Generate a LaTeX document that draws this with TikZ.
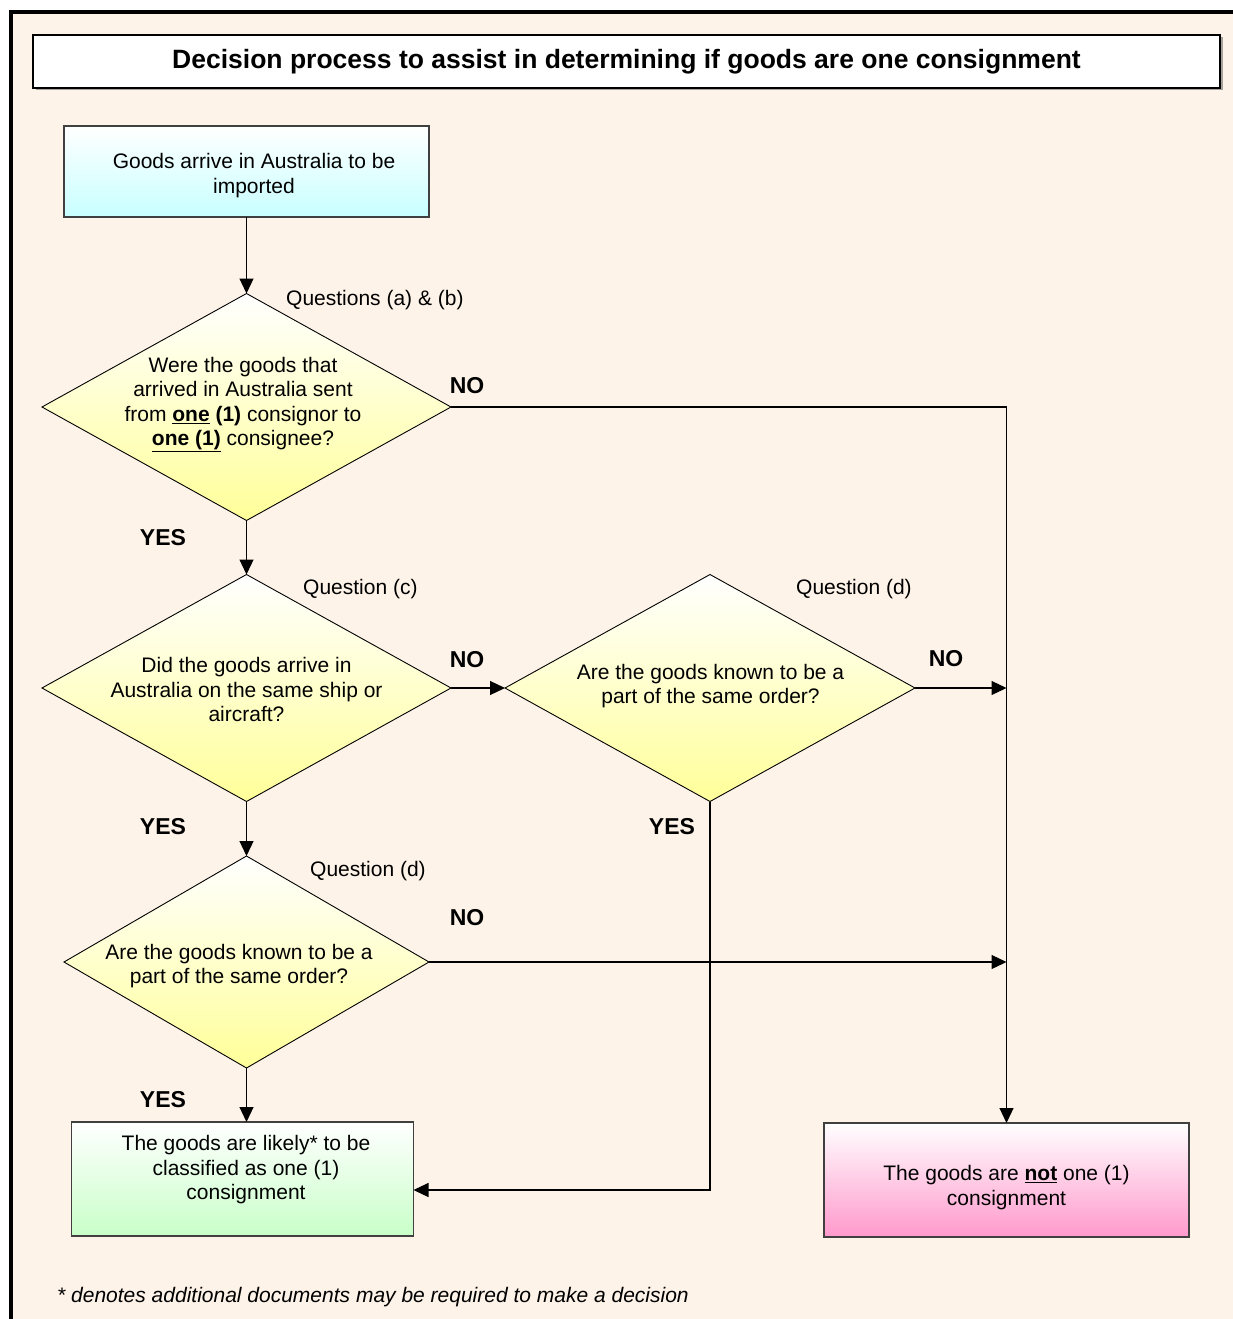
\documentclass[tikz,border=0pt]{standalone}
\usepackage{fontspec}
\setmainfont{Liberation Sans}
\usetikzlibrary{shapes.geometric,arrows.meta,shadows}
\definecolor{bgpeach}{HTML}{FEF3E8}
\definecolor{diayellow}{HTML}{FFFF99}
\definecolor{startcyan}{HTML}{C8FFFF}
\definecolor{okgreen}{HTML}{C8FFC8}
\definecolor{notpink}{HTML}{FF99CC}
\definecolor{boxedge}{HTML}{404040}
\begin{document}
\begin{tikzpicture}[x=1pt,y=-1pt,
  bodytext/.style={font=\fontsize{21}{24.5}\selectfont, align=center, inner sep=0pt},
  qlabel/.style={font=\fontsize{21}{24.5}\selectfont, anchor=west, inner sep=0pt},
  answer/.style={font=\fontsize{23}{26}\selectfont\bfseries, inner sep=0pt},
  dia/.style={shape=diamond, draw=black, line width=0.9pt, inner sep=0pt, outer sep=0pt,
    top color=white, bottom color=diayellow},
  resbox/.style={shape=rectangle, draw=boxedge, line width=1.3pt, inner sep=0pt, outer sep=0pt},
  flow/.style={line width=1.2pt, draw=black, -{Triangle[length=15pt,width=14pt]}},
  flowline/.style={line width=1.2pt, draw=black}
]
\useasboundingbox (0,0) rectangle (1233,1319);
\fill[white] (0,0) rectangle (1233,1319);
\fill[bgpeach] (11,12) rectangle (1233,1319);
\draw[line width=4pt] (9,12) -- (1233,12);
\draw[line width=4pt] (11,10) -- (11,1319);

% title
\node (title) [draw=black, line width=2.5pt, fill=white, inner sep=0pt, outer sep=0pt,
  minimum width=1187pt, minimum height=53pt,
  drop shadow={shadow xshift=2.5pt, shadow yshift=-2.5pt, fill=gray, opacity=0.7},
  font=\fontsize{26.5}{30}\selectfont\bfseries] at (626.5,61.5)
  {Decision process to assist in determining if goods are one consignment};

% start box
\node (start) [resbox, top color=white, bottom color=startcyan,
  minimum width=365pt, minimum height=91pt] at (246.5,171.5) {};
\node (startt) [bodytext] at (254,175.5) {Goods arrive in Australia to be\\imported};

% diamonds
\node (d1) [dia, minimum width=409pt, minimum height=227pt] at (246.5,407) {};
\node (d1t) [bodytext] at (243,404.5) {Were the goods that\\arrived in Australia sent\\from \textbf{\underline{one} (1)} consignor to\\\textbf{\underline{one (1)}} consignee?};
\node (q1) [qlabel] at (286,300) {Questions (a) \& (b)};

\node (d2) [dia, minimum width=409pt, minimum height=227pt] at (246.5,688) {};
\node (d2t) [bodytext] at (246.5,689.5) {Did the goods arrive in\\Australia on the same ship or\\aircraft?};
\node (q2) [qlabel] at (303,589) {Question (c)};

\node (d3) [dia, minimum width=410pt, minimum height=227pt] at (710,688) {};
\node (d3t) [bodytext] at (710.5,686) {Are the goods known to be a\\part of the same order?};
\node (q3) [qlabel] at (796,589) {Question (d)};

\node (d4) [dia, minimum width=365pt, minimum height=212pt] at (246.5,962) {};
\node (d4t) [bodytext] at (239,966) {Are the goods known to be a\\part of the same order?};
\node (q4) [qlabel] at (310,871) {Question (d)};

% result boxes
\node (green) [resbox, top color=white, bottom color=okgreen,
  minimum width=342pt, minimum height=114pt] at (242.5,1179) {};
\node (greent) [bodytext] at (246,1170) {The goods are likely* to be\\classified as one (1)\\consignment};

\node (pink) [resbox, top color=white, bottom color=notpink,
  minimum width=365pt, minimum height=114pt] at (1006.5,1180) {};
\node (pinkt) [bodytext] at (1006.5,1187.5) {The goods are \textbf{\underline{not}} one (1)\\consignment};

% answer labels
\node (no1) [answer] at (467,386) {NO};
\node (no2) [answer] at (467,660) {NO};
\node (no3) [answer] at (946,659) {NO};
\node (no4) [answer] at (467,918) {NO};
\node (yes1) [answer] at (163,538) {YES};
\node (yes2) [answer] at (163,827) {YES};
\node (yes3) [answer] at (672,827) {YES};
\node (yes4) [answer] at (163,1100) {YES};

% helper coordinates
\coordinate (rail1) at (pink.north |- d1.east);
\coordinate (rail3) at (pink.north |- d3.east);
\coordinate (rail4) at (pink.north |- d4.east);
\coordinate (gin) at ([yshift=-11pt]green.east);
\coordinate (ycorner) at (d3.south |- gin);
\coordinate (gtop) at (d4.south |- green.north);

% connectors
\draw[flow] (start.south) -- (d1.north);
\draw[flow] (d1.south) -- (d2.north);
\draw[flow] (d2.south) -- (d4.north);
\draw[flow] (d4.south) -- (gtop);
\draw[flow] (d2.east) -- (d3.west);
\draw[flow] (d1.east) -- (rail1) -- (pink.north);
\draw[flow] (d3.east) -- (rail3);
\draw[flow] (d4.east) -- (rail4);
\draw[flow] (d3.south) -- (ycorner) -- (gin);

% footnote
\node (foot) [anchor=west, inner sep=0pt, font=\fontsize{21}{24.5}\selectfont\itshape] at (57,1297)
  {* denotes additional documents may be required to make a decision};
\end{tikzpicture}
\end{document}
